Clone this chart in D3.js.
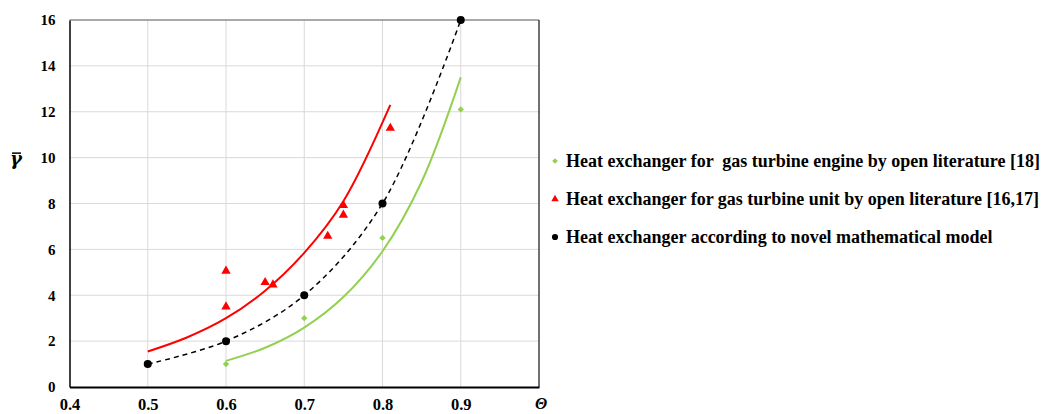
<!DOCTYPE html>
<html>
<head>
<meta charset="utf-8">
<script src="https://cdn.jsdelivr.net/npm/d3@7"></script>
<style>
  body { margin: 0; background: #fff; }
  text { font-family: "Liberation Serif", "Times New Roman", serif; font-weight: bold; }
</style>
</head>
<body>
<div id="chart"></div>
<script>
// data
var xTicks = [0.4, 0.5, 0.6, 0.7, 0.8, 0.9];
var yTicks = [0, 2, 4, 6, 8, 10, 12, 14, 16];

// novel mathematical model (black)
var modelX = [0.5, 0.6, 0.7, 0.8, 0.9];
var modelY = [1, 2, 4, 8, 16];

// gas turbine engine, open literature [18] (green)
var engineX = [0.6, 0.7, 0.8, 0.9];
var engineY = [1.0, 3.0, 6.5, 12.1];
var engineTrendX = [0.6, 0.65, 0.7, 0.75, 0.8, 0.85, 0.9];
var engineTrendY = [1.14, 1.71, 2.59, 3.92, 5.92, 8.95, 13.5];

// gas turbine unit, open literature [16,17] (red)
var unitX = [0.6, 0.6, 0.65, 0.66, 0.73, 0.75, 0.75, 0.81];
var unitY = [5.06, 3.5, 4.56, 4.46, 6.58, 7.92, 7.5, 11.29];
var unitTrendX = [0.5, 0.55, 0.6, 0.65, 0.7, 0.75, 0.81];
var unitTrendY = [1.55, 2.16, 3.0, 4.2, 5.85, 8.1, 12.3];

var legendLabels = [
    "Heat exchanger for  gas turbine engine by open literature [18]",
    "Heat exchanger for gas turbine unit by open literature [16,17]",
    "Heat exchanger according to novel mathematical model"
];

var green = "#92d050", red = "#ff0000", black = "#000000";

var width = 1047, height = 414;
var margin = { top: 20, left: 69.5, right: 508, bottom: 27 };

var svg = d3.select("#chart")
    .append("svg")
    .attr("width", width)
    .attr("height", height);

var x = d3.scaleLinear().domain([0.4, 1.0]).range([margin.left, width - margin.right]);
var y = d3.scaleLinear().domain([0, 16]).range([height - margin.bottom, margin.top]);

// gridlines
svg.append("g").selectAll("line.h")
    .data(yTicks.slice(1, -1))
    .enter().append("line")
    .attr("x1", x(0.4)).attr("x2", x(1.0))
    .attr("y1", function (d) { return y(d); })
    .attr("y2", function (d) { return y(d); })
    .attr("stroke", "#d9d9d9").attr("stroke-width", 1);
svg.append("g").selectAll("line.v")
    .data(xTicks.slice(1))
    .enter().append("line")
    .attr("x1", function (d) { return x(d); })
    .attr("x2", function (d) { return x(d); })
    .attr("y1", y(0)).attr("y2", y(16))
    .attr("stroke", "#d9d9d9").attr("stroke-width", 1);

// frame
svg.append("line").attr("x1", x(0.4)).attr("x2", x(1.0)).attr("y1", y(16)).attr("y2", y(16))
    .attr("stroke", "#8c8c8c").attr("stroke-width", 1.5);
svg.append("line").attr("x1", x(1.0)).attr("x2", x(1.0)).attr("y1", y(16)).attr("y2", y(0))
    .attr("stroke", "#404040").attr("stroke-width", 1.5);

// axes
var xAxis = svg.append("g")
    .attr("transform", "translate(0," + y(0) + ")")
    .call(d3.axisBottom(x).tickValues(xTicks).tickSize(0).tickPadding(11).tickFormat(d3.format(".1f")));
xAxis.select(".domain").attr("stroke", "#000").attr("stroke-width", 2);
xAxis.selectAll("text").attr("font-size", 16.5).attr("fill", "#000")
    .style("font-family", "Liberation Serif").style("font-weight", "bold");

var yAxis = svg.append("g")
    .attr("transform", "translate(" + x(0.4) + ",0)")
    .call(d3.axisLeft(y).tickValues(yTicks).tickSize(0).tickPadding(14));
yAxis.select(".domain").attr("stroke", "#000").attr("stroke-width", 1.5);
yAxis.selectAll("text").attr("font-size", 15).attr("fill", "#000")
    .style("font-family", "Liberation Serif").style("font-weight", "bold");

// axis titles
svg.append("text")
    .attr("x", x(1.0) + 2).attr("y", y(0) + 22)
    .attr("text-anchor", "middle")
    .attr("font-size", 16).attr("font-style", "italic")
    .text("Θ");

svg.append("text")
    .attr("x", 16).attr("y", y(10) + 7.5)
    .attr("text-anchor", "middle")
    .attr("font-size", 18).attr("font-style", "italic")
    .style("font-family", "DejaVu Serif")
    .text("γ");
svg.append("line")
    .attr("x1", 12).attr("x2", 21)
    .attr("y1", y(10) - 4.5).attr("y2", y(10) - 4.5)
    .attr("stroke", "#000").attr("stroke-width", 1.5);

// trend lines
var line = d3.line()
    .x(function (d) { return x(d[0]); })
    .y(function (d) { return y(d[1]); })
    .curve(d3.curveCatmullRom);

svg.append("path")
    .datum(d3.zip(engineTrendX, engineTrendY))
    .attr("d", line).attr("fill", "none")
    .attr("stroke", green).attr("stroke-width", 2);
svg.append("path")
    .datum(d3.zip(unitTrendX, unitTrendY))
    .attr("d", line).attr("fill", "none")
    .attr("stroke", red).attr("stroke-width", 2);
svg.append("path")
    .datum(d3.zip(modelX, modelY))
    .attr("d", line).attr("fill", "none")
    .attr("stroke", black).attr("stroke-width", 1.5)
    .attr("stroke-dasharray", "5,4");

// markers (green diamond = rotated square)
var diamond = d3.symbol().type(d3.symbolSquare).size(20);
var triangle = d3.symbol().type(d3.symbolTriangle).size(38);

svg.append("g").selectAll("path")
    .data(d3.zip(engineX, engineY))
    .enter().append("path")
    .attr("d", diamond)
    .attr("transform", function (d) { return "translate(" + x(d[0]) + "," + y(d[1]) + ")rotate(45)"; })
    .attr("fill", green);

svg.append("g").selectAll("path")
    .data(d3.zip(unitX, unitY))
    .enter().append("path")
    .attr("d", triangle)
    .attr("transform", function (d) { return "translate(" + x(d[0]) + "," + y(d[1]) + ")"; })
    .attr("fill", red);

svg.append("g").selectAll("circle")
    .data(d3.zip(modelX, modelY))
    .enter().append("circle")
    .attr("cx", function (d) { return x(d[0]); })
    .attr("cy", function (d) { return y(d[1]); })
    .attr("r", 4)
    .attr("fill", black);

// legend
var legendMarks = [
    { sym: d3.symbol().type(d3.symbolSquare).size(16), color: green, rot: 45 },
    { sym: d3.symbol().type(d3.symbolTriangle).size(24), color: red, rot: 0 },
    { sym: d3.symbol().type(d3.symbolCircle).size(30), color: black, rot: 0 }
];
var legend = svg.append("g").attr("transform", "translate(555,161)");
legendLabels.forEach(function (label, i) {
    var row = legend.append("g").attr("transform", "translate(0," + i * 38 + ")");
    row.append("path")
        .attr("d", legendMarks[i].sym)
        .attr("transform", "rotate(" + legendMarks[i].rot + ")")
        .attr("fill", legendMarks[i].color);
    row.append("text")
        .attr("x", 11).attr("y", 6)
        .attr("font-size", 18)
        .style("white-space", "pre")
        .text(label);
});
</script>
</body>
</html>
